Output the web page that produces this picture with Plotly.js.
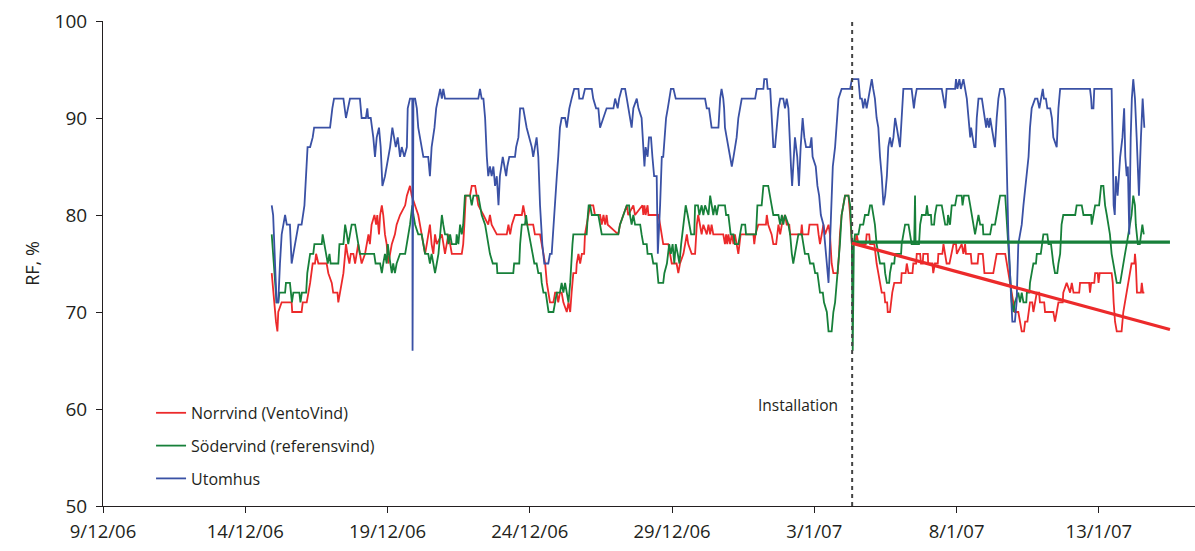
<!DOCTYPE html>
<html>
<head>
<meta charset="utf-8">
<script src="https://cdn.plot.ly/plotly-3.0.1.min.js"></script>
<style>html,body{margin:0;padding:0;background:#fff;}#chart{width:1195px;height:551px;}</style>
</head>
<body>
<div id="chart"></div>
<script>
// Time values are days since 9/12/2006 00:00
const tickDays = [0, 5, 10, 15, 20, 25, 30, 35];
const tickLabels = ['9/12/06', '14/12/06', '19/12/06', '24/12/06', '29/12/06', '3/1/07', '8/1/07', '13/1/07'];

const norrT = [5.93,5.96,6.01,6.08,6.13,6.16,6.28,6.63,6.65,6.98,7.02,7.16,7.22,7.28,7.37,7.45,7.49,7.57,7.86,7.92,8.04,8.09,8.24,8.27,8.33,8.39,8.45,8.51,8.54,8.59,8.66,8.71,8.80,8.86,8.92,8.97,9.03,9.09,9.21,9.27,9.33,9.38,9.44,9.54,9.60,9.64,9.70,9.74,9.80,9.85,9.91,9.97,10.03,10.09,10.15,10.26,10.32,10.44,10.62,10.68,10.79,10.85,10.97,11.08,11.14,11.20,11.26,11.32,11.38,11.43,11.49,11.55,11.61,11.67,11.73,11.91,11.96,12.02,12.08,12.14,12.20,12.26,12.61,12.66,12.70,12.75,12.90,12.96,13.08,13.14,13.19,13.37,13.54,13.60,13.66,13.84,14.19,14.25,14.31,14.37,14.48,14.72,14.77,14.83,14.89,15.12,15.18,15.36,15.42,15.48,15.54,15.60,15.66,15.71,15.83,15.89,15.95,16.00,16.06,16.12,16.18,16.30,16.36,16.42,16.47,16.53,16.63,16.65,16.71,16.77,16.83,16.91,16.94,17.00,17.06,17.12,17.23,17.29,17.47,17.53,17.59,17.65,17.70,17.74,18.11,18.17,18.29,18.41,18.46,18.64,18.70,18.96,18.99,19.03,19.07,19.14,19.17,19.52,19.58,19.64,19.69,19.87,19.93,19.99,20.16,20.22,20.28,20.40,20.46,20.52,20.57,20.69,20.81,20.87,20.92,20.98,21.04,21.10,21.22,21.28,21.34,21.39,21.45,21.80,21.86,21.90,21.94,21.98,22.04,22.10,22.16,22.21,22.27,22.33,22.37,22.41,22.86,22.89,22.93,23.03,23.30,23.33,23.38,23.50,23.56,23.66,23.70,23.74,23.80,23.86,23.97,24.03,24.12,24.15,24.53,24.56,24.59,24.79,24.83,25.11,25.15,25.20,25.26,25.32,25.38,25.50,25.55,25.61,25.67,25.82,25.87,25.90,25.96,26.02,26.08,26.20,26.26,26.32,26.43,26.49,26.55,26.81,26.84,26.93,26.96,27.11,27.14,27.19,27.25,27.31,27.37,27.46,27.49,27.56,27.58,27.66,27.69,27.74,27.81,28.05,28.07,28.21,28.25,28.31,28.45,28.48,28.58,28.60,28.72,28.75,28.81,28.83,28.99,29.00,29.15,29.18,29.24,29.34,29.36,29.50,29.54,29.60,29.65,29.75,29.83,29.89,29.98,30.01,30.18,30.24,30.30,30.33,30.50,30.53,30.74,30.77,30.92,30.94,30.98,31.29,31.35,31.41,31.71,31.77,31.82,31.88,31.94,32.00,32.05,32.17,32.23,32.29,32.37,32.41,32.49,32.53,32.58,32.66,32.70,32.76,32.82,32.90,32.93,33.08,33.11,33.40,33.46,33.52,33.58,33.73,33.75,33.87,33.99,34.05,34.11,34.31,34.34,34.66,34.69,34.73,34.84,34.87,34.96,34.99,35.03,35.45,35.49,35.52,35.57,35.63,35.80,35.86,35.92,35.98,36.04,36.09,36.15,36.25,36.27,36.30,36.34,36.48,36.51,36.55,36.60];
const norrV = [74,73,71,69,68,70,71,71,70,70,71,71,72,73,75,75,76,75,75,74,73,72,72,71,72,73,74,76,77,76,75,76,76,75,76,77,76,75,76,77,78,77,79,80,79,80,78,80,81,80,78,77,75,76,77,78,79,80,81,82,83,82,81,80,79,78,77,76,77,78,79,77,76,78,77,78,77,76,77,78,77,76,76,77,79,82,82,83,83,82,81,80,79,80,79,78,78,79,78,79,80,80,81,80,79,79,78,78,77,76,75,73,72,71,71,72,72,71,72,72,71,70,71,70,72,74,74,75,76,75,76,76,78,79,80,81,81,80,80,79,80,79,80,79,78,79,80,81,80,81,80,81,80,81,80,81,80,80,79,78,77,77,76,75,75,74,75,76,77,78,77,76,76,79,80,79,78,79,78,79,78,79,78,78,77,78,77,78,77,78,77,78,77,76,77,78,78,77,78,79,79,80,79,78,77,77,78,79,78,79,80,79,79,78,78,79,78,78,79,79,78,77,78,79,78,79,78,75,74,74,76,78,80,81,82,82,80,77,77,78,77,77,78,78,77,77,76,75,74,73,72,72,71,71,70,70,71,72,73,73,74,74,75,74,74,75,75,76,76,75,75,76,76,75,75,74,75,75,76,76,77,76,75,75,76,77,77,76,77,76,77,76,76,75,75,76,76,75,74,74,75,76,76,75,74,73,72,71,70,70,69,68,68,69,69,70,71,71,70,71,72,72,71,71,70,70,69,70,71,71,72,73,72,73,72,72,73,73,72,73,73,74,74,73,74,74,73,71,69,68,68,70,71,72,73,74,75,75,76,75,72,72,73,72,72];

const soderT = [5.93,6.01,6.05,6.10,6.16,6.20,6.40,6.43,6.57,6.61,6.64,6.69,6.90,6.94,6.99,7.14,7.18,7.23,7.28,7.39,7.43,7.69,7.72,7.78,7.83,7.90,7.96,8.00,8.27,8.31,8.45,8.47,8.51,8.57,8.62,8.68,8.74,8.86,8.92,8.97,9.03,9.53,9.58,9.74,9.80,9.85,9.91,9.97,10.01,10.05,10.09,10.15,10.20,10.26,10.32,10.44,10.62,10.68,10.73,10.79,10.83,10.87,10.91,10.97,11.08,11.20,11.26,11.32,11.43,11.49,11.55,11.61,11.67,11.73,11.79,11.85,11.91,11.96,12.02,12.11,12.14,12.20,12.26,12.41,12.43,12.49,12.55,12.61,12.66,12.72,12.90,12.96,13.02,13.19,13.25,13.31,13.43,13.49,13.54,13.60,13.70,13.84,13.86,14.42,14.45,14.63,14.66,14.72,14.83,14.87,14.91,14.98,15.03,15.10,15.16,15.24,15.30,15.39,15.42,15.48,15.56,15.60,15.66,15.83,15.89,15.95,16.06,16.12,16.18,16.24,16.30,16.36,16.42,16.45,16.50,16.53,17.00,17.04,17.07,17.12,17.18,17.41,17.47,17.53,18.11,18.17,18.29,18.41,18.49,18.52,18.58,18.64,18.70,18.88,18.93,18.99,19.11,19.14,19.28,19.34,19.46,19.52,19.69,19.73,19.82,19.87,19.90,19.96,20.02,20.08,20.13,20.20,20.26,20.32,20.36,20.43,20.48,20.55,20.60,20.67,20.78,20.81,20.91,20.96,21.04,21.10,21.16,21.28,21.34,21.39,21.45,21.51,21.57,21.63,21.86,21.90,21.98,22.02,22.06,22.16,22.21,22.33,22.39,22.45,22.57,22.60,22.95,23.00,23.15,23.21,23.38,23.45,23.50,23.56,23.74,23.80,23.86,23.91,23.97,24.09,24.15,24.21,24.26,24.32,24.38,24.44,24.56,24.61,24.67,24.79,24.85,24.97,25.03,25.11,25.15,25.20,25.30,25.34,25.44,25.50,25.61,25.67,25.73,25.79,25.85,25.90,25.96,26.02,26.08,26.20,26.26,26.32,26.35,26.39,26.43,26.55,26.61,26.72,26.78,26.90,26.96,27.02,27.07,27.13,27.19,27.25,27.31,27.46,27.49,27.55,27.63,27.66,27.72,27.81,27.84,28.05,28.07,28.13,28.19,28.31,28.37,28.42,28.51,28.54,28.56,28.68,28.72,28.78,28.92,28.96,29.00,29.10,29.12,29.21,29.24,29.30,29.48,29.54,29.60,29.68,29.70,29.77,29.83,29.95,30.01,30.18,30.21,30.26,30.42,30.48,30.53,30.59,30.65,30.71,30.77,30.83,30.92,30.94,31.18,31.24,31.35,31.41,31.47,31.53,31.71,31.77,31.82,31.88,31.94,32.00,32.05,32.17,32.23,32.29,32.35,32.45,32.47,32.56,32.58,32.64,32.70,32.79,32.82,32.96,33.00,33.05,33.19,33.23,33.32,33.35,33.40,33.46,33.54,33.58,33.64,33.69,33.75,34.17,34.22,34.40,34.46,34.73,34.75,34.81,34.87,35.01,35.04,35.08,35.16,35.22,35.28,35.33,35.39,35.45,35.51,35.57,35.63,35.75,35.80,35.86,35.92,35.98,36.04,36.09,36.15,36.21,36.27,36.30,36.37,36.44,36.48,36.53,36.58];
const soderV = [78,75,73,71,71,72,72,73,73,72,71,72,72,71,72,72,74,75,76,76,77,77,78,77,76,75,76,75,75,77,77,78,79,78,77,78,79,79,78,77,76,76,75,75,74,75,76,75,77,76,75,74,75,74,75,76,76,77,78,79,80,81,80,79,78,78,77,76,76,75,76,75,74,75,76,78,80,79,78,78,77,78,77,77,78,77,79,78,79,82,82,81,82,82,81,80,79,78,77,76,75,75,74,74,75,75,77,79,79,80,79,78,77,76,75,75,74,74,73,72,72,71,70,70,71,72,72,73,72,73,72,71,73,75,77,78,78,80,81,81,80,80,79,78,78,79,80,81,81,80,79,80,79,79,78,77,77,76,76,75,75,73,73,74,75,76,77,76,77,75,77,76,75,77,78,80,81,80,79,78,78,81,81,80,81,80,81,80,82,81,80,81,80,81,81,80,80,79,78,78,77,77,78,79,79,78,78,81,81,83,83,82,81,80,80,79,80,79,80,79,78,76,75,76,77,78,78,77,76,76,75,75,74,74,73,72,72,71,70,68,68,70,71,73,75,77,80,81,82,82,81,77,66,77,78,78,79,79,80,80,81,81,80,79,77,76,75,75,74,73,73,74,75,75,76,76,77,78,79,79,78,77,77,82,77,77,79,80,80,81,80,80,79,79,80,81,81,80,79,79,80,79,81,81,82,82,81,82,82,81,80,79,78,79,80,79,79,78,78,79,79,80,81,82,82,79,76,74,71,70,71,72,71,72,71,71,72,72,73,74,75,75,76,76,77,78,78,77,77,76,75,74,74,75,76,79,80,80,81,81,80,80,79,80,81,81,82,83,83,81,80,79,78,76,75,74,73,73,74,75,76,77,78,79,80,82,81,79,77,77,78,79,78];

const utomT = [5.93,5.98,6.10,6.16,6.22,6.28,6.34,6.40,6.46,6.57,6.63,6.69,6.75,6.87,6.98,7.08,7.19,7.28,7.37,7.42,7.98,8.01,8.06,8.12,8.45,8.54,8.60,8.68,9.03,9.09,9.24,9.29,9.32,9.41,9.50,9.56,9.62,9.70,9.76,9.82,9.91,9.97,10.05,10.09,10.17,10.24,10.29,10.36,10.44,10.50,10.59,10.68,10.71,10.79,10.87,10.88,10.91,10.97,11.03,11.08,11.20,11.26,11.43,11.49,11.55,11.65,11.71,11.79,11.85,11.91,11.96,12.02,13.19,13.25,13.31,13.37,13.43,13.49,13.54,13.60,13.66,13.72,13.78,13.84,13.90,13.95,14.05,14.11,14.17,14.21,14.28,14.48,14.52,14.60,14.66,14.77,14.83,14.89,14.98,15.07,15.12,15.18,15.24,15.30,15.36,15.44,15.51,15.65,15.71,15.77,15.85,15.95,16.00,16.06,16.12,16.24,16.30,16.39,16.47,16.56,16.71,16.74,16.86,16.94,17.18,17.23,17.33,17.41,17.47,17.59,17.70,17.94,18.00,18.09,18.14,18.23,18.35,18.41,18.46,18.52,18.58,18.64,18.76,18.82,18.93,18.97,19.03,19.07,19.14,19.19,19.26,19.31,19.37,19.46,19.50,19.58,19.64,19.69,19.75,19.79,19.85,19.90,19.96,20.05,20.13,21.16,21.22,21.30,21.34,21.39,21.63,21.69,21.74,21.80,21.83,21.86,21.92,21.98,22.04,22.10,22.16,22.21,22.27,22.33,22.39,22.45,22.92,22.98,23.21,23.24,23.33,23.36,23.45,23.50,23.56,23.62,23.68,23.74,23.80,23.91,23.97,24.03,24.09,24.15,24.18,24.22,24.26,24.32,24.40,24.46,24.52,24.59,24.65,24.71,24.85,24.90,24.94,25.05,25.11,25.17,25.23,25.32,25.38,25.44,25.50,25.55,25.59,25.65,25.73,25.79,25.85,25.96,26.26,26.32,26.55,26.61,26.67,26.72,26.78,26.84,26.90,26.96,27.02,27.07,27.13,27.19,27.25,27.31,27.37,27.43,27.49,27.55,27.60,27.66,27.72,27.78,27.84,27.90,27.96,28.01,28.07,28.13,28.42,28.46,28.50,28.54,28.60,29.48,29.54,29.60,29.65,29.95,29.98,30.03,30.10,30.15,30.24,30.30,30.36,30.42,30.48,30.51,30.57,30.62,30.67,30.71,30.77,30.89,30.94,30.98,31.04,31.08,31.14,31.18,31.24,31.29,31.35,31.41,31.47,31.53,31.65,31.71,31.77,31.82,31.91,31.96,32.05,32.11,32.17,32.23,32.29,32.35,32.45,32.53,32.58,32.64,32.76,32.84,32.91,32.96,33.03,33.07,33.14,33.19,33.29,33.35,33.40,33.52,33.58,33.64,34.69,34.73,34.75,34.81,34.84,35.45,35.49,35.52,35.56,35.60,35.66,35.75,35.83,35.89,35.93,35.98,36.02,36.04,36.07,36.12,36.16,36.21,36.27,36.33,36.37,36.41,36.48,36.54,36.60];
const utomV = [81,80,71,71,75,78,79,80,79,79,75,76,77,79,79,81,87,87,88,89,89,90,91,92,92,90,91,92,92,90,90,91,90,90,88,86,88,89,87,83,84,85,86,87,89,88,87,88,86,87,86,87,91,92,92,66,92,92,91,89,87,86,86,84,87,89,91,92,93,92,93,92,92,93,92,92,90,86,84,85,84,85,83,84,81,84,86,85,84,85,86,86,87,88,91,91,90,89,88,87,86,87,88,86,81,77,75,75,76,76,80,84,86,89,90,90,89,91,92,93,93,92,92,93,93,92,91,91,89,90,91,91,92,91,92,93,93,92,91,90,89,91,92,91,90,88,85,87,86,88,88,86,84,84,76,81,86,86,88,90,91,92,93,93,92,92,91,91,90,89,89,92,93,92,91,89,88,87,86,85,86,87,88,90,91,92,92,93,93,94,94,93,93,90,87,87,89,91,92,92,91,92,91,86,85,83,85,88,86,83,87,90,88,87,87,88,86,85,83,82,80,79,77,75,73,77,81,85,87,90,92,93,93,94,94,92,92,91,92,91,92,93,94,93,92,90,89,86,84,81,82,84,87,88,87,88,90,89,88,87,90,93,93,92,91,92,93,93,92,91,93,93,94,93,94,93,94,93,92,90,88,89,88,87,87,90,92,92,91,90,89,90,89,90,89,88,87,90,92,93,93,92,85,78,72,69,69,71,77,78,79,81,84,86,89,91,92,92,91,92,93,92,92,91,91,90,88,87,91,93,93,92,91,91,93,93,86,81,80,84,82,86,88,91,86,84,85,83,78,88,92,94,92,88,84,82,88,92,89];

// Linear trends after the installation
const trendT = [26.32, 37.50];
const norrTrend = [77.1, 68.2];
const soderTrend = [77.2, 77.2];
const installDay = 26.33;
const installLabel = 'Installation';

const base = Date.UTC(2006, 11, 9);
function toDate(d) {
  return new Date(base + d * 86400000).toISOString().slice(0, 19).replace('T', ' ');
}
const dates = arr => arr.map(toDate);

const RED = '#ec2a2b', GREEN = '#17803a', BLUE = '#3a51a5';
const FONT = 'Open Sans, DejaVu Sans, sans-serif';
const INK = '#231f20';

const traces = [
  {x: dates(norrT), y: norrV, type: 'scatter', mode: 'lines', name: 'Norrvind (VentoVind)',
   line: {color: RED, width: 1.8}, legendgroup: 'a'},
  {x: dates(soderT), y: soderV, type: 'scatter', mode: 'lines', name: 'Södervind (referensvind)',
   line: {color: GREEN, width: 1.8}, legendgroup: 'b'},
  {x: dates(utomT), y: utomV, type: 'scatter', mode: 'lines', name: 'Utomhus',
   line: {color: BLUE, width: 1.8}, legendgroup: 'c'},
  {x: dates(trendT), y: soderTrend, type: 'scatter', mode: 'lines', showlegend: false,
   line: {color: GREEN, width: 3.2}, hoverinfo: 'skip'},
  {x: dates(trendT), y: norrTrend, type: 'scatter', mode: 'lines', showlegend: false,
   line: {color: RED, width: 3.2}, hoverinfo: 'skip'}
];

const layout = {
  width: 1195, height: 551,
  margin: {l: 103, r: 0, t: 21, b: 45, pad: 0},
  paper_bgcolor: '#ffffff', plot_bgcolor: '#ffffff',
  font: {family: FONT, color: INK, size: 17},
  showlegend: true,
  legend: {x: 0.044, y: 0.227, xanchor: 'left', yanchor: 'top', bgcolor: 'rgba(0,0,0,0)',
           font: {size: 16, family: FONT, color: INK}, tracegroupgap: 9, itemwidth: 30,
           traceorder: 'grouped'},
  xaxis: {
    type: 'date', range: [toDate(0), toDate(38.38)],
    tickmode: 'array', tickvals: dates(tickDays), ticktext: tickLabels,
    showgrid: false, zeroline: false, showline: true, linecolor: INK, linewidth: 1,
    ticks: 'outside', ticklen: 6, tickcolor: INK, ticklabelstandoff: 3,
    tickfont: {size: 18.5, family: FONT, color: INK}
  },
  yaxis: {
    range: [50, 100], tickmode: 'linear', tick0: 50, dtick: 10,
    showgrid: false, zeroline: false, showline: true, linecolor: INK, linewidth: 1,
    ticks: 'outside', ticklen: 6, tickcolor: INK, ticklabelstandoff: 5,
    tickfont: {size: 19, family: FONT, color: INK},
    title: {text: 'RF, %', font: {size: 18, family: FONT, color: INK}, standoff: 10}
  },
  shapes: [{
    type: 'line', xref: 'x', yref: 'paper', x0: toDate(installDay), x1: toDate(installDay), y0: 0, y1: 1,
    line: {color: '#444', width: 2, dash: '4px,4px'}
  }],
  annotations: [{
    x: toDate(installDay), y: 60.4, xref: 'x', yref: 'y', text: installLabel, showarrow: false,
    xanchor: 'right', yanchor: 'middle', xshift: -12,
    font: {size: 15.5, family: FONT, color: INK}
  }]
};

Plotly.newPlot('chart', traces, layout, {staticPlot: true, displayModeBar: false});
</script>
</body>
</html>
